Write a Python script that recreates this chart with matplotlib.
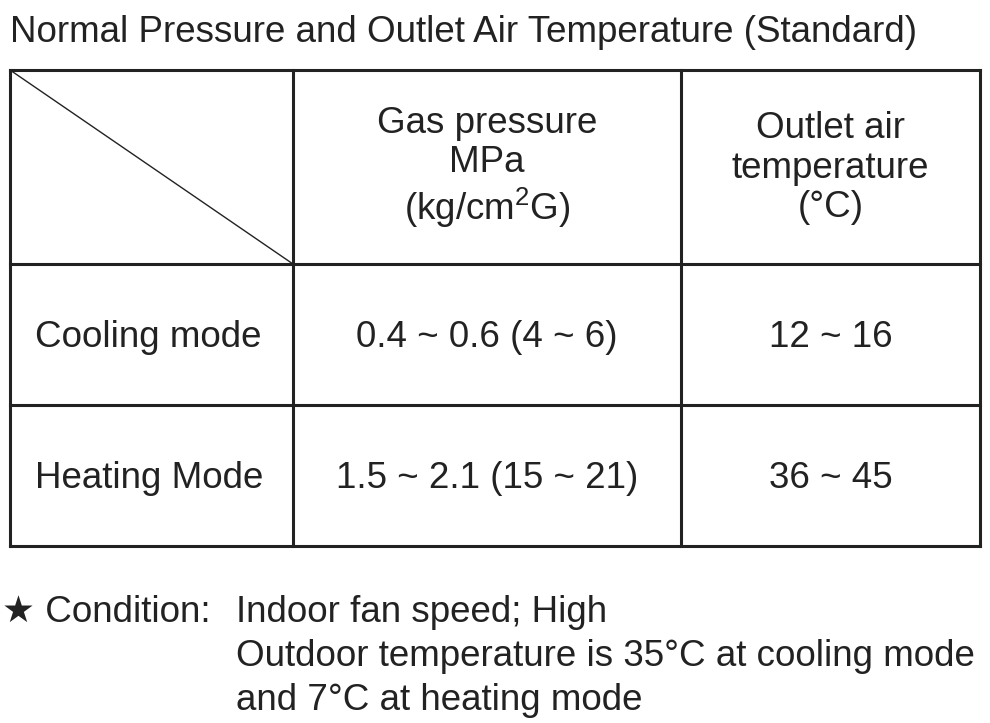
import matplotlib
matplotlib.use("Agg")
import matplotlib.pyplot as plt

plt.rcParams['font.family'] = ['Liberation Sans', 'DejaVu Sans']
plt.rcParams['mathtext.fontset'] = 'custom'
plt.rcParams['mathtext.rm'] = 'Liberation Sans'

title = "Normal Pressure and Outlet Air Temperature (Standard)"
col_headers = ["Gas pressure\nMPa\n(kg/cm$^{\\mathrm{2}}$G)", "Outlet air\ntemperature\n(°C)"]
row_labels = ["Cooling mode", "Heating Mode"]
pressure = ["0.4 ~ 0.6 (4 ~ 6)", "1.5 ~ 2.1 (15 ~ 21)"]
outlet_temp = ["12 ~ 16", "36 ~ 45"]
condition = ["Indoor fan speed; High",
             "Outdoor temperature is 35°C at cooling mode",
             "and 7°C at heating mode"]

# grid geometry in pixels
xs = [10, 293, 681, 980]
ys = [70, 264, 405, 546]

fig = plt.figure(figsize=(9.9, 7.23), dpi=100)
ax = fig.add_axes([0, 0, 1, 1])
ax.set_xlim(0, 990)
ax.set_ylim(723, 0)
ax.axis('off')

fs = 26.5
lc = '#222222'
lw = 2.2

for x in xs:
    ax.plot([x, x], [ys[0], ys[-1]], color=lc, lw=lw, solid_capstyle='projecting')
for y in ys:
    ax.plot([xs[0], xs[-1]], [y, y], color=lc, lw=lw, solid_capstyle='projecting')
ax.plot([xs[0], xs[1]], [ys[0], ys[1]], color=lc, lw=1.0)

ax.text(10, 33, title, fontsize=fs, va='center', ha='left', color=lc)

for j, h in enumerate(col_headers):
    cx = (xs[j + 1] + xs[j + 2]) / 2
    ax.text(cx, 168, h, fontsize=fs, ha='center', va='center',
            linespacing=1.15, color=lc)

for i in range(len(row_labels)):
    cy = (ys[i + 1] + ys[i + 2]) / 2 + 3
    ax.text(xs[0] + 25, cy, row_labels[i], fontsize=fs, ha='left', va='center', color=lc)
    ax.text((xs[1] + xs[2]) / 2, cy, pressure[i], fontsize=fs, ha='center', va='center', color=lc)
    ax.text((xs[2] + xs[3]) / 2, cy, outlet_temp[i], fontsize=fs, ha='center', va='center', color=lc)

ax.text(2, 612, "★ Condition:", fontsize=fs, va='center', ha='left', color=lc)
for k, line in enumerate(condition):
    ax.text(236, 612 + k * 44, line, fontsize=fs, va='center', ha='left', color=lc)

fig.savefig("out.png", dpi=100)
